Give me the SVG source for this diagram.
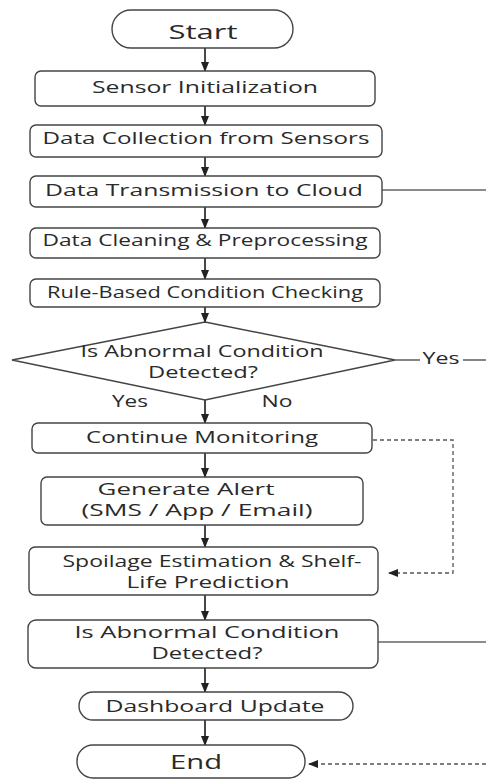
<svg xmlns="http://www.w3.org/2000/svg" width="486" height="781" viewBox="0 0 486 781">
<style>
.box{fill:#fff;stroke:#444;stroke-width:1.4}
.t{font-family:"Open Sans","DejaVu Sans",sans-serif;font-weight:500;font-size:17px;fill:#2a2a2a;text-anchor:middle}
.sm{font-size:15.5px}
.big{font-size:20px}
.ln{fill:none;stroke:#333;stroke-width:1.8}
.gl{fill:none;stroke:#666;stroke-width:1.6}
.dl{fill:none;stroke:#555;stroke-width:1.3;stroke-dasharray:4 3}
</style>
<defs>
<marker id="ah" markerWidth="10" markerHeight="8" refX="9" refY="4" orient="auto" markerUnits="userSpaceOnUse">
<path d="M0,0 L10,4 L0,8 Z" fill="#222"/>
</marker>
</defs>
<rect width="486" height="781" fill="#fff"/>
<g id="connectors">
<path class="ln" d="M205,48 V71" marker-end="url(#ah)"/>
<path class="ln" d="M205,106 V125" marker-end="url(#ah)"/>
<path class="ln" d="M205,157 V176" marker-end="url(#ah)"/>
<path class="ln" d="M205,207 V228" marker-end="url(#ah)"/>
<path class="ln" d="M205,258 V279" marker-end="url(#ah)"/>
<path class="ln" d="M205,307 V322" marker-end="url(#ah)"/>
<path class="ln" d="M205,400 V423" marker-end="url(#ah)"/>
<path class="ln" d="M205,453 V477" marker-end="url(#ah)"/>
<path class="ln" d="M205,525 V547" marker-end="url(#ah)"/>
<path class="ln" d="M205,595 V620" marker-end="url(#ah)"/>
<path class="ln" d="M205,668 V692" marker-end="url(#ah)"/>
<path class="ln" d="M205,720 V745" marker-end="url(#ah)"/>
<path class="gl" d="M382,190 H486"/>
<path class="gl" d="M395,360 H420"/>
<path class="gl" d="M463,360 H486"/>
<path class="gl" d="M378,642 H486"/>
<path class="dl" d="M373,440 H453 V573 H389" marker-end="url(#ah)"/>
<path class="dl" d="M486,764 H309" marker-end="url(#ah)"/>
</g>
<g id="start"><rect class="box" x="112" y="10" width="181" height="38" rx="19"/><text class="t big" x="203" y="39" textLength="69" lengthAdjust="spacingAndGlyphs">Start</text></g>
<g id="sensor-init"><rect class="box" x="35" y="71" width="340" height="35" rx="6"/><text class="t" x="205" y="93" textLength="226" lengthAdjust="spacingAndGlyphs">Sensor Initialization</text></g>
<g id="data-collection"><rect class="box" x="30" y="125" width="352" height="32" rx="6"/><text class="t" x="206" y="144" textLength="327" lengthAdjust="spacingAndGlyphs">Data Collection from Sensors</text></g>
<g id="data-transmission"><rect class="box" x="30" y="176" width="352" height="31" rx="6"/><text class="t" x="204" y="196" textLength="318" lengthAdjust="spacingAndGlyphs">Data Transmission to Cloud</text></g>
<g id="data-cleaning"><rect class="box" x="30" y="228" width="350" height="30" rx="6"/><text class="t" x="205" y="246" textLength="325" lengthAdjust="spacingAndGlyphs">Data Cleaning &amp; Preprocessing</text></g>
<g id="rule-based"><rect class="box" x="30" y="279" width="350" height="28" rx="6"/><text class="t" x="205" y="298" textLength="316" lengthAdjust="spacingAndGlyphs">Rule-Based Condition Checking</text></g>
<g id="decision1"><path class="box" d="M205,322 L395,360 L205,400 L12,360 Z"/><text class="t sm" x="202" y="357" textLength="243" lengthAdjust="spacingAndGlyphs">Is Abnormal Condition</text><text class="t sm" x="203" y="378" textLength="110" lengthAdjust="spacingAndGlyphs">Detected?</text></g>
<g id="labels"><text class="t" x="441" y="364" textLength="37" lengthAdjust="spacingAndGlyphs">Yes</text><text class="t" x="130" y="407" textLength="36" lengthAdjust="spacingAndGlyphs">Yes</text><text class="t" x="277" y="407" textLength="31" lengthAdjust="spacingAndGlyphs">No</text></g>
<g id="continue"><rect class="box" x="32" y="423" width="340" height="30" rx="6"/><text class="t" x="202" y="443" textLength="232" lengthAdjust="spacingAndGlyphs">Continue Monitoring</text></g>
<g id="alert"><rect class="box" x="41" y="477" width="322" height="48" rx="6"/><text class="t sm" x="186" y="495" textLength="177" lengthAdjust="spacingAndGlyphs">Generate Alert</text><text class="t sm" x="197" y="516" textLength="231" lengthAdjust="spacingAndGlyphs">(SMS / App / Email)</text></g>
<g id="spoilage"><rect class="box" x="29" y="547" width="349" height="48" rx="6"/><text class="t sm" x="212" y="567" textLength="299" lengthAdjust="spacingAndGlyphs">Spoilage Estimation &amp; Shelf-</text><text class="t sm" x="208" y="588" textLength="163" lengthAdjust="spacingAndGlyphs">Life Prediction</text></g>
<g id="decision2"><rect class="box" x="28" y="620" width="350" height="48" rx="8"/><text class="t sm" x="207" y="638" textLength="265" lengthAdjust="spacingAndGlyphs">Is Abnormal Condition</text><text class="t sm" x="207" y="659" textLength="111" lengthAdjust="spacingAndGlyphs">Detected?</text></g>
<g id="dashboard"><rect class="box" x="79" y="692" width="274" height="28" rx="14"/><text class="t" x="215" y="712" textLength="219" lengthAdjust="spacingAndGlyphs">Dashboard Update</text></g>
<g id="end"><rect class="box" x="77" y="745" width="228" height="33" rx="16"/><text class="t big" x="196" y="769" textLength="52" lengthAdjust="spacingAndGlyphs">End</text></g>
</svg>
